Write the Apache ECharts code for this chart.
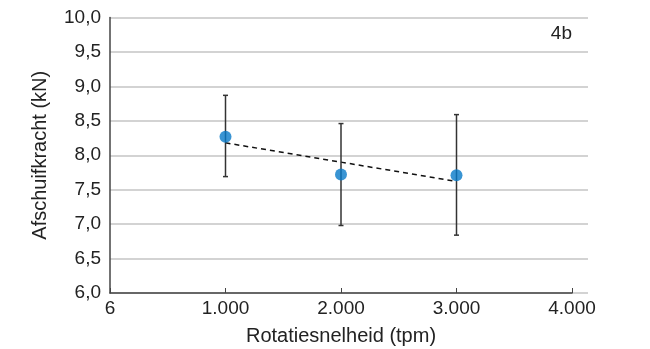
<!DOCTYPE html>
<html>
<head>
<meta charset="utf-8">
<script src="https://cdn.jsdelivr.net/npm/echarts@6/dist/echarts.min.js"></script>
<style>html,body{margin:0;padding:0;background:#fff}#c{width:650px;height:349px}</style>
</head>
<body>
<div id="c"></div>
<script>
var xValues = [1000, 2000, 3000];
var meanValues = [8.27, 7.72, 7.71];
var errLow = [7.69, 6.98, 6.84];
var errHigh = [8.87, 8.46, 8.59];
var trendX = [1000, 3000];
var trendY = [8.18, 7.62];
var xTickLabels = ['6', '1.000', '2.000', '3.000', '4.000'];
var panelLabel = '4b';

var FONT = '"Liberation Sans", Arial, sans-serif';
var TXT = '#222';

var chart = echarts.init(document.getElementById('c'), null, {renderer: 'canvas'});
var points = xValues.map(function (x, i) { return [x, meanValues[i]]; });
var bars = xValues.map(function (x, i) { return [x, errLow[i], errHigh[i]]; });
var trend = trendX.map(function (x, i) { return [x, trendY[i]]; });

chart.setOption({
  animation: false,
  backgroundColor: '#fff',
  textStyle: {fontFamily: FONT},
  grid: [
    {left: 110, right: 62, top: 17.5, bottom: 56, containLabel: false, outerBoundsMode: 'none'},
    {left: 110, right: 78, top: 17.5, bottom: 56, containLabel: false, outerBoundsMode: 'none'}
  ],
  xAxis: [
    {gridIndex: 0, type: 'value', min: 0, max: 1, show: false},
    {
      gridIndex: 1, type: 'value', min: 0, max: 4000, interval: 1000,
      name: 'Rotatiesnelheid (tpm)', nameLocation: 'middle', nameGap: 33,
      nameTextStyle: {fontSize: 20, color: TXT, fontFamily: FONT},
      axisLine: {show: true, lineStyle: {color: '#444', width: 1.5}},
      axisTick: {show: true, inside: true, length: 5, lineStyle: {color: '#444', width: 1}},
      axisLabel: {
        fontSize: 19, color: TXT, fontFamily: FONT, margin: 6,
        formatter: function (v) { return xTickLabels[Math.round(v / 1000)]; }
      },
      splitLine: {show: false}
    }
  ],
  yAxis: [
    {
      gridIndex: 0, type: 'value', min: 6, max: 10, interval: 0.5,
      axisLine: {show: false}, axisTick: {show: false},
      axisLabel: {
        fontSize: 19, color: TXT, fontFamily: FONT, margin: 9,
        formatter: function (v) { return v.toFixed(1).replace('.', ','); }
      },
      splitLine: {show: true, lineStyle: {color: '#c4c4c4', width: 1.5}}
    },
    {
      gridIndex: 1, type: 'value', min: 6, max: 10, interval: 0.5,
      name: 'Afschuifkracht (kN)', nameLocation: 'middle', nameGap: 60,
      nameTextStyle: {fontSize: 20, color: TXT, fontFamily: FONT},
      axisLine: {show: true, lineStyle: {color: '#444', width: 1.5}},
      axisTick: {show: false},
      axisLabel: {show: false},
      splitLine: {show: false}
    }
  ],
  graphic: [{
    type: 'text', right: 78, top: 24,
    style: {text: panelLabel, fontSize: 19, fill: TXT, fontFamily: FONT}
  }],
  series: [
    {
      type: 'line', xAxisIndex: 1, yAxisIndex: 1, data: trend,
      symbol: 'none', z: 2,
      lineStyle: {color: '#111', width: 1.5, type: [5, 4]}
    },
    {
      type: 'custom', xAxisIndex: 1, yAxisIndex: 1, data: bars, z: 3,
      renderItem: function (params, api) {
        var x = api.value(0);
        var lo = api.coord([x, api.value(1)]);
        var hi = api.coord([x, api.value(2)]);
        var w = 2.5;
        var st = {stroke: '#333', lineWidth: 1.5};
        return {
          type: 'group',
          children: [
            {type: 'line', shape: {x1: lo[0], y1: lo[1], x2: hi[0], y2: hi[1]}, style: st},
            {type: 'line', shape: {x1: hi[0] - w, y1: hi[1], x2: hi[0] + w, y2: hi[1]}, style: st},
            {type: 'line', shape: {x1: lo[0] - w, y1: lo[1], x2: lo[0] + w, y2: lo[1]}, style: st}
          ]
        };
      }
    },
    {
      type: 'scatter', xAxisIndex: 1, yAxisIndex: 1, data: points, z: 4,
      symbol: 'circle', symbolSize: 12,
      itemStyle: {color: '#0779c8'}
    }
  ]
});
</script>
</body>
</html>
